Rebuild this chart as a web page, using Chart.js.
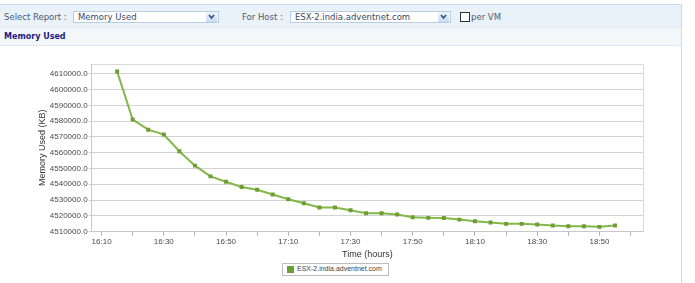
<!DOCTYPE html>
<html><head><meta charset="utf-8">
<script src="https://cdn.jsdelivr.net/npm/chart.js@4/dist/chart.umd.min.js"></script>
<style>
html,body{margin:0;padding:0;width:695px;height:283px;overflow:hidden;background:#fff;font-family:"DejaVu Sans",Verdana,sans-serif;}
.abs{position:absolute;}
#topline{left:0;top:4px;width:682px;height:1px;background:#c9dbed;}
#row1{left:0;top:5px;width:681px;height:24px;background:#e9f1f9;}
#row2{left:0;top:29px;width:681px;height:16px;background:#f4f7fa;border-bottom:1px solid #e2e8ef;}
#rightline{left:681px;top:4px;width:1px;height:279px;background:#c9dbed;}
.lbl{font-size:8.5px;color:#4b5b70;top:12px;white-space:nowrap;}
.sel{top:11px;height:12px;background:#fff;border:1px solid #b8cce2;box-sizing:border-box;font-size:8.5px;color:#3a4a63;line-height:10px;padding-left:4px;white-space:nowrap;}
.arr{position:absolute;right:1px;top:0px;width:11px;height:10px;background:linear-gradient(#eef4fb,#c9daee);}
#chk{left:460px;top:12px;width:8px;height:8px;border:1px solid #333;background:#fff;}
#title2{left:4px;top:32px;font-size:8px;font-weight:bold;color:#1c1c84;white-space:nowrap;}
#wrap{left:0;top:46px;width:681px;height:214px;}
#legend{left:282px;top:263px;width:107px;height:13px;border:1px solid #bdbdbd;background:#fff;box-sizing:border-box;}
#legend .sw{position:absolute;left:4px;top:2px;width:7px;height:7px;background:#6d9e33;}
#legend .tx{position:absolute;left:14px;top:1px;font-family:"Liberation Sans",Arial,sans-serif;font-size:7px;color:#444;white-space:nowrap;}
</style></head>
<body>
<div class="abs" id="topline"></div>
<div class="abs" id="row1"></div>
<div class="abs" id="row2"></div>
<div class="abs" id="rightline"></div>
<div class="abs lbl" style="left:4px;">Select Report :</div>
<div class="abs sel" style="left:73px;width:146px;">Memory Used<div class="arr"><svg width="11" height="10"><polyline points="3,3 5.5,6 8,3" fill="none" stroke="#2a4f8a" stroke-width="1.6"/></svg></div></div>
<div class="abs lbl" style="left:242px;">For Host :</div>
<div class="abs sel" style="left:290px;width:161px;">ESX-2.india.adventnet.com<div class="arr"><svg width="11" height="10"><polyline points="3,3 5.5,6 8,3" fill="none" stroke="#2a4f8a" stroke-width="1.6"/></svg></div></div>
<div class="abs" id="chk"></div>
<div class="abs lbl" style="left:471px;">per VM</div>
<div class="abs" id="title2">Memory Used</div>
<div class="abs" id="wrap"><canvas id="c" width="681" height="214"></canvas></div>
<div class="abs" id="legend"><div class="sw"></div><div class="tx" id="legtx"></div></div>
<script>
const seriesName = 'ESX-2.india.adventnet.com';
const times = ['16:15','16:20','16:25','16:30','16:35','16:40','16:45','16:50','16:55','17:00','17:05','17:10','17:15','17:20','17:25','17:30','17:35','17:40','17:45','17:50','17:55','18:00','18:05','18:10','18:15','18:20','18:25','18:30','18:35','18:40','18:45','18:50','18:55'];
const memoryUsedKB = [4611500,4581000,4574600,4571500,4560900,4551800,4545000,4541600,4538200,4536500,4533500,4530500,4528000,4525300,4525300,4523500,4521600,4521600,4520800,4519100,4518700,4518600,4517600,4516500,4515700,4514900,4514900,4514500,4513800,4513400,4513400,4513000,4513800];
const xTickLabels = ['16:10','16:30','16:50','17:10','17:30','17:50','18:10','18:30','18:50'];
const yTickValues = [4510000,4520000,4530000,4540000,4550000,4560000,4570000,4580000,4590000,4600000,4610000];

const BASE = 16*60;
const toMin = t => { const [h,m] = t.split(':').map(Number); return h*60+m-BASE; };
const fmt = v => { const tot = Math.round(v)+BASE; const h = Math.floor(tot/60), m = tot%60; return h+':'+String(m).padStart(2,'0'); };

document.getElementById('legtx').textContent = seriesName;

const frame = {
  id:'frame',
  beforeDatasetsDraw(chart){
    const a = chart.chartArea, ctx = chart.ctx;
    ctx.save(); ctx.strokeStyle = '#d9d9d9'; ctx.lineWidth = 1;
    ctx.beginPath();
    ctx.moveTo(a.left, a.top+0.5); ctx.lineTo(a.right+0.5, a.top+0.5); ctx.lineTo(a.right+0.5, a.bottom);
    ctx.stroke(); ctx.restore();
  }
};

new Chart(document.getElementById('c'), {
  type:'line',
  data:{ datasets:[{
    label: seriesName,
    data: times.map((t,i)=>({x:toMin(t), y:memoryUsedKB[i]})),
    borderColor:'#84b749', backgroundColor:'#6d9e33',
    borderWidth:2, pointStyle:'rect', pointRadius:2.8, pointBackgroundColor:'#6d9e33', pointBorderColor:'#6d9e33', pointBorderWidth:0,
    tension:0, fill:false
  }]},
  options:{
    responsive:false, animation:false, devicePixelRatio:1,
    layout:{padding:{left:33,right:38,top:18,bottom:0}},
    plugins:{legend:{display:false}, tooltip:{enabled:false}},
    scales:{
      x:{ type:'linear', min:6.8, max:184,
        afterBuildTicks(s){ const first = toMin(xTickLabels[0]), last = toMin(xTickLabels[xTickLabels.length-1])+10; const t=[]; for(let m=first;m<=last;m+=10) t.push({value:m}); s.ticks=t; },
        ticks:{ autoSkip:false, maxRotation:0, padding:1, color:'#4a4a4a', font:{family:'"Liberation Sans", Arial, sans-serif', size:8},
          callback:v=>{ const l = fmt(v); return xTickLabels.includes(l)?l:''; } },
        grid:{ drawOnChartArea:false, drawTicks:true, tickLength:4, color:'#b0b0b0' },
        border:{ color:'#c8c8c8' },
        title:{ display:true, text:'Time (hours)', color:'#333', padding:{top:2,bottom:0}, font:{family:'"Liberation Sans", Arial, sans-serif', size:9} }
      },
      y:{ min:4510000, max:4616200,
        afterBuildTicks(s){ s.ticks = yTickValues.map(v=>({value:v})); },
        ticks:{ padding:1, color:'#4a4a4a', font:{family:'"Liberation Sans", Arial, sans-serif', size:8}, callback:v=>Number(v).toFixed(1) },
        grid:{ color:'#d2d2d2', lineWidth:1, tickLength:3 },
        border:{ color:'#c8c8c8' },
        title:{ display:true, text:'Memory Used (KB)', color:'#333', padding:{top:4,bottom:1}, font:{family:'"Liberation Sans", Arial, sans-serif', size:9} }
      }
    }
  },
  plugins:[frame]
});
</script>
</body></html>
